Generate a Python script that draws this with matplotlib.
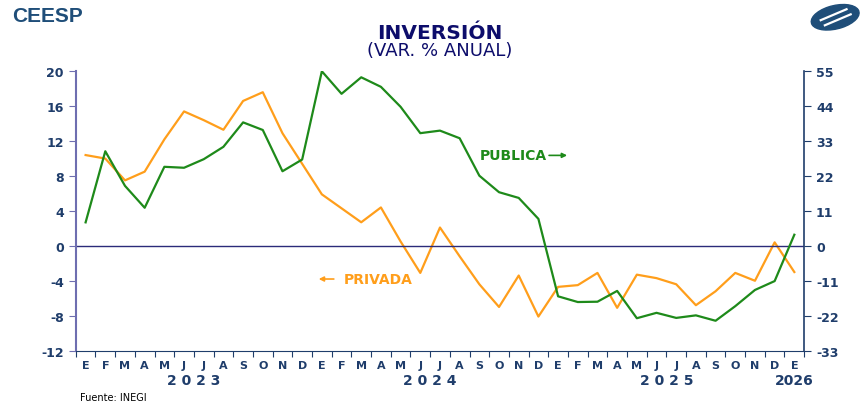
import numpy as np
import matplotlib.pyplot as plt
from matplotlib.patches import Ellipse
from matplotlib.transforms import blended_transform_factory

plt.rcParams["axes.unicode_minus"] = False

# months E 2023 .. E 2026
months = ["E", "F", "M", "A", "M", "J", "J", "A", "S", "O", "N", "D",
          "E", "F", "M", "A", "M", "J", "J", "A", "S", "O", "N", "D",
          "E", "F", "M", "A", "M", "J", "J", "A", "S", "O", "N", "D",
          "E"]
years = ["2 0 2 3", "2 0 2 4", "2 0 2 5", "2026"]
year_pos = [5.5, 17.5, 29.5, 36]

# inversion privada (eje izquierdo)
privada = [10.4, 10.0, 7.5, 8.5, 12.2, 15.4, 14.4, 13.3, 16.6, 17.6, 12.9, 9.4,
           5.9, 4.3, 2.7, 4.4, 0.5, -3.1, 2.1, -1.2, -4.4, -7.0, -3.4, -8.1,
           -4.7, -4.5, -3.1, -7.1, -3.3, -3.7, -4.4, -6.8, -5.2, -3.1, -4.0, 0.4,
           -3.0]
# inversion publica (eje derecho)
publica = [7.4, 29.8, 18.9, 12.0, 24.9, 24.6, 27.3, 31.2, 38.9, 36.5, 23.5, 27.2,
           55.0, 47.9, 53.1, 50.1, 43.8, 35.5, 36.3, 33.9, 22.1, 16.9, 15.1, 8.5,
           -15.9, -17.7, -17.6, -14.2, -22.8, -21.1, -22.7, -21.9, -23.6, -19.0, -13.9, -11.1,
           3.5]

navy = "#1f3d6b"
green = "#1e8a1a"
orange = "#ff9e1b"

x = np.arange(len(months))

fig = plt.figure(figsize=(8.61, 4.06), dpi=100)
ax = fig.add_axes([0.088, 0.134, 0.846, 0.688])
ax2 = ax.twinx()

ax.plot(x, privada, color=orange, lw=1.6)
ax2.plot(x, publica, color=green, lw=1.6)
ax.axhline(0, color="#2b2b7a", lw=1.0)

ax.set_xlim(-0.5, len(months) - 0.5)
ax.set_ylim(-12, 20)
ax.set_yticks(np.arange(-12, 21, 4))
ax2.set_ylim(-33, 55)
ax2.set_yticks(np.arange(-33, 56, 11))

for a in (ax, ax2):
    a.spines["top"].set_visible(False)
    for lab in a.get_yticklabels():
        lab.set_fontweight("bold")
ax.spines["right"].set_visible(False)
ax2.spines["left"].set_visible(False)
ax2.spines["bottom"].set_visible(False)
ax.spines["left"].set_color("#6e6eb0")
ax.spines["left"].set_linewidth(1.5)
ax.spines["bottom"].set_color(navy)
ax2.spines["right"].set_color(navy)
ax2.spines["right"].set_linewidth(1.2)

ax.tick_params(axis="y", colors=navy, labelsize=9, length=5, direction="out")
ax.tick_params(axis="y", color="#6e6eb0")
ax2.tick_params(axis="y", colors=navy, labelsize=9, length=5, direction="out")

# month letters between tick marks
ax.set_xticks(np.arange(-0.5, len(months), 1))
ax.set_xticklabels([])
ax.set_xticks(x, minor=True)
ax.set_xticklabels(months, minor=True, fontsize=8, fontweight="bold", color=navy)
ax.tick_params(axis="x", which="major", length=4, color=navy)
ax.tick_params(axis="x", which="minor", length=0, pad=7)

tr = blended_transform_factory(ax.transData, ax.transAxes)
for yr, p in zip(years, year_pos):
    ax.text(p, -0.105, yr, transform=tr, ha="center", va="center",
            fontsize=10, fontweight="bold", color=navy)

# series labels
ax2.text(20.0, 28.5, "PUBLICA", color=green, fontsize=10, fontweight="bold",
         va="center", ha="left")
ax2.annotate("", xy=(24.6, 28.5), xytext=(23.4, 28.5),
             arrowprops=dict(arrowstyle="-|>", color=green, lw=1.2, mutation_scale=7))
ax.text(13.1, -3.8, "PRIVADA", color=orange, fontsize=10, fontweight="bold",
        va="center", ha="left")
ax.annotate("", xy=(11.7, -3.8), xytext=(12.75, -3.8),
            arrowprops=dict(arrowstyle="-|>", color=orange, lw=1.2, mutation_scale=7))

# titles
fig.text(0.511, 0.918, "INVERSIÓN", ha="center", va="center", fontsize=14.5,
         fontweight="bold", color="#0d0d6b")
fig.text(0.511, 0.874, "(VAR. % ANUAL)", ha="center", va="center", fontsize=13,
         color="#0d0d6b")
fig.text(0.014, 0.96, "CEESP", ha="left", va="center", fontsize=15,
         fontweight="bold", color="#1f4e79", family="Liberation Sans")
fig.text(0.093, 0.02, "Fuente: INEGI", ha="left", va="center", fontsize=7, color="black")

# logo
lax = fig.add_axes([0.94, 0.91, 0.06, 0.09])
lax.set_xlim(0, 1)
lax.set_ylim(0, 1)
lax.axis("off")
lax.add_patch(Ellipse((0.5, 0.5), 0.98, 0.62, angle=25, color="#1f4e79"))
lax.plot([0.22, 0.72], [0.42, 0.72], color="white", lw=1.6)
lax.plot([0.3, 0.8], [0.28, 0.58], color="white", lw=1.6)

fig.savefig("out.png", dpi=100)
